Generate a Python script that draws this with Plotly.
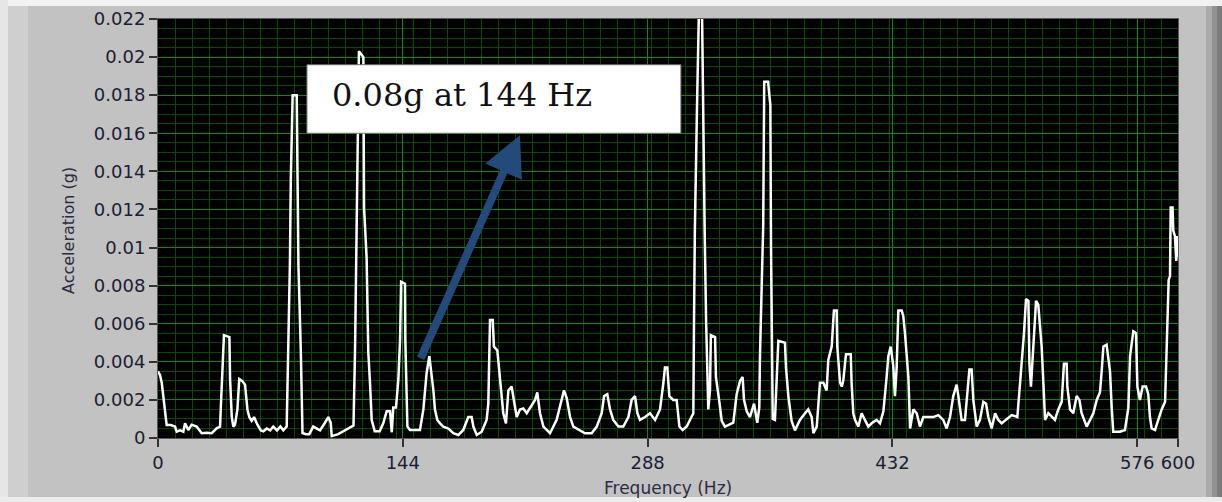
import plotly.graph_objects as go

# ---------------- data ----------------
freq_hz = [
    0, 1.2, 2.2, 3.1, 4.1, 5.1, 7.5, 10, 11, 13, 14.9, 15.9, 17.8, 19.8, 22.7, 25.7, 28.6, 31.6, 34.5, 36.5,
    36.9, 38.0, 38.8, 42.0, 42.4, 43.4, 44.3, 45.3, 46.7, 47.8, 49.5, 51.2, 52.6, 53.7, 55.1, 56.5, 58.5, 60.5,
    62, 64, 66, 67.8, 70, 72, 73.7, 75.7, 76.7, 77.6, 78.1, 79.2, 81.6, 82.0, 82.6, 84.0, 85.0, 87, 89, 91.3,
    95.3, 98.2, 100.2, 101.6, 102.2, 106, 110, 115, 115.9, 116.7, 117.3, 118.2, 120.8, 121.2, 122.7, 123.7,
    124.7, 125.7, 127.5, 130.4, 132.5, 134.5, 136.5, 137.5, 138.4, 140.0, 141.4, 142.4, 143.0, 145.3, 145.5,
    146.0, 146.7, 148.2, 154.1, 156.1, 158.0, 159.6, 161.0, 162.0, 162.9, 164.3, 165.9, 167.8, 170.8, 173.7,
    176.7, 179.6, 182.5, 184.5, 185.5, 187.5, 190.4, 193.3, 194.3, 195.3, 196.9, 197.6, 199.6, 201.2, 203.1,
    204.7, 206.1, 208.0, 210.0, 211.0, 212.9, 214.9, 216.9, 218.8, 221.8, 223.1, 224.7, 226.7, 230.6, 234.5,
    237.5, 238.8, 240.4, 242.4, 244.3, 248.2, 251.2, 255.1, 258.1, 261.0, 262.4, 264.3, 265.9, 267.8, 270.8,
    273.7, 276.7, 278.6, 280.6, 282.0, 283.5, 286.5, 289.4, 292.4, 295.3, 297.3, 298.2, 299.6, 300.8, 303.1,
    305.1, 306.7, 308.6, 311.0, 312.9, 314.9, 315.3, 315.8, 317.0, 318.2, 320.0, 320.6, 321.6, 322.4, 323.7,
    324.7, 325.2, 327.7, 328.2, 330.2, 331.6, 333.5, 335.5, 338.4, 340.4, 342.4, 343.9, 344.7, 346.3, 348.2,
    350.6, 352.5, 353.7, 354.1, 355.2, 356.0, 356.6, 358.9, 359.5, 360.2, 360.6, 361.0, 361.6, 362.9, 363.9,
    364.9, 368.8, 369.4, 370.8, 372.7, 374.7, 377.6, 380.6, 382.5, 384.5, 385.5, 387.5, 389.4, 391.4, 393.3,
    394.3, 396.3, 397.6, 399.2, 399.6, 401.2, 402.2, 403.1, 404.7, 407.5, 408.0, 409.0, 410.0, 412.0, 413.9,
    415.9, 417.8, 419.8, 422.7, 424.7, 426.7, 428.6, 429.6, 431.0, 432.5, 433.5, 434.5, 435.5, 437.5, 438.4,
    439.4, 441.4, 442.4, 444.3, 446.3, 448.2, 450.2, 453.1, 456.1, 459.0, 461.9, 463.9, 465.9, 467.8, 469.8,
    470.8, 472.7, 474.7, 476.1, 477.3, 478.6, 479.6, 481.6, 483.5, 485.5, 487.1, 488.4, 490.4, 492.4, 494.3,
    496.3, 499.2, 502.2, 505.5, 506.7, 508.0, 509.4, 510.6, 512.0, 512.6, 513.5, 514.9, 516.5, 517.8, 518.8,
    519.8, 520.8, 521.8, 523.7, 525.7, 527.6, 529.6, 531.6, 532.9, 534.5, 534.9, 536.5, 538.4, 540.4, 542.0,
    543.3, 546.3, 548.2, 550.2, 552.2, 554.1, 555.1, 556.1, 558.0, 560.0, 561.0, 561.9, 565.9, 568.8, 570.8,
    571.8, 573.7, 575.3, 576.1, 577.6, 579.2, 581.2, 582.5, 583.5, 584.5, 586.5, 588.4, 590.4, 592.4, 593.3,
    594.5, 595.3, 595.7, 596.8, 597.2, 598.2, 599.0, 599.5, 600.0,
]

accel_g = [
    0.0035, 0.0033, 0.0029, 0.0022, 0.0013, 0.00068, 0.00068, 0.0006, 0.00033, 0.0004, 0.00033, 0.00077, 0.00042, 0.0007, 0.0006, 0.00025, 0.00028, 0.00025, 0.00051, 0.00059,
    0.0015, 0.0035, 0.0054, 0.0053, 0.0031, 0.0011, 0.0006, 0.0007, 0.0015, 0.0031, 0.0030, 0.0028, 0.0015, 0.0011, 0.0009, 0.0011, 0.0007, 0.0004,
    0.00035, 0.0005, 0.0004, 0.0006, 0.0004, 0.0006, 0.0004, 0.0006, 0.0048, 0.0092, 0.0135, 0.0180, 0.0180, 0.0134, 0.0091, 0.0046, 0.00026, 0.0002, 0.0002, 0.0006,
    0.0004, 0.0008, 0.0011, 0.0008, 0.0001, 0.0002, 0.0004, 0.00065, 0.0046, 0.0097, 0.0125, 0.0203, 0.0200, 0.0121, 0.0095, 0.0045,
    0.0029, 0.00094, 0.00035, 0.00035, 0.00077, 0.0014, 0.0014, 0.0003, 0.0016, 0.0016, 0.0031, 0.0052, 0.0082, 0.0081, 0.0051,
    0.0030, 0.0006, 0.00042, 0.00042, 0.0015, 0.0034, 0.0043, 0.0034, 0.0025, 0.0015, 0.00095, 0.00077, 0.0006, 0.0005, 0.00025,
    0.00016, 0.00042, 0.0011, 0.0011, 0.0006, 0.00016, 0.00033, 0.00095, 0.0018, 0.0062, 0.0062, 0.0048, 0.0046, 0.0030, 0.0013,
    0.00077, 0.0025, 0.0027, 0.0015, 0.0011, 0.0015, 0.00155, 0.0013, 0.0016, 0.0020, 0.0024, 0.0013, 0.0006, 0.00025, 0.00095,
    0.0020, 0.0025, 0.0021, 0.0011, 0.0006, 0.00042, 0.00025, 0.00025, 0.0006, 0.0013, 0.0022, 0.0023, 0.0015, 0.00095, 0.0006,
    0.0006, 0.0011, 0.0020, 0.0022, 0.0013, 0.00095, 0.0011, 0.0013, 0.00095, 0.0015, 0.0029, 0.0037, 0.0037, 0.0022, 0.0020,
    0.0020, 0.0006, 0.00042, 0.0006, 0.00095, 0.0013, 0.0062, 0.0109, 0.0171, 0.0225, 0.0225, 0.0170, 0.0107, 0.0062, 0.0015,
    0.0025, 0.0054, 0.0053, 0.0032, 0.0019, 0.0009, 0.0006, 0.0007, 0.0008, 0.0023, 0.0030, 0.0032, 0.0020, 0.0014, 0.0011,
    0.0018, 0.0008, 0.0016, 0.0043, 0.0083, 0.0111, 0.0187, 0.0187, 0.0181, 0.0175, 0.0100, 0.0050, 0.0010, 0.00095, 0.0030,
    0.0051, 0.0050, 0.0037, 0.0022, 0.0009, 0.0004, 0.00095, 0.0013, 0.0015, 0.0011, 0.00025, 0.0006, 0.0029, 0.0029, 0.0025,
    0.0041, 0.0048, 0.0067, 0.0067, 0.0048, 0.0029, 0.0027, 0.0030, 0.0044, 0.0044, 0.0029, 0.0013, 0.00095, 0.0006, 0.0013,
    0.00095, 0.0006, 0.00077, 0.00095, 0.00077, 0.0014, 0.0032, 0.0043, 0.0048, 0.0038, 0.0022, 0.0037, 0.0067, 0.0067, 0.0064,
    0.0055, 0.0032, 0.0005, 0.0015, 0.0013, 0.0006, 0.0011, 0.0011, 0.0011, 0.0012, 0.00095, 0.0005, 0.0011, 0.0022, 0.0028,
    0.0022, 0.00095, 0.00095, 0.0022, 0.0036, 0.0036, 0.0020, 0.0006, 0.00095, 0.0019, 0.0018, 0.0011, 0.0005, 0.0013, 0.00095,
    0.00077, 0.0010, 0.0012, 0.0011, 0.0023, 0.0039, 0.0055, 0.0073, 0.0072, 0.0039, 0.0027, 0.0048, 0.0072, 0.0070, 0.0060,
    0.0048, 0.0029, 0.00095, 0.0013, 0.0011, 0.00095, 0.0015, 0.0019, 0.0039, 0.0039, 0.0027, 0.0015, 0.0013, 0.0022, 0.0020,
    0.0013, 0.0006, 0.00095, 0.0013, 0.0020, 0.0024, 0.0035, 0.0048, 0.0049, 0.0035, 0.0016, 0.00033, 0.00033, 0.00042, 0.0016,
    0.0043, 0.0056, 0.0055, 0.0027, 0.0020, 0.0027, 0.0027, 0.0023, 0.0011, 0.0005, 0.00042, 0.00095, 0.0015, 0.0019, 0.0048,
    0.0083, 0.0085, 0.0121, 0.0121, 0.0109, 0.0106, 0.0093, 0.0106, 0.0095,
]

x_tick_vals = [0, 144, 288, 432, 576, 600]
x_tick_text = ["0", "144", "288", "432", "576", "600"]
y_tick_vals = [0, 0.002, 0.004, 0.006, 0.008, 0.01, 0.012, 0.014, 0.016, 0.018, 0.02, 0.022]
y_tick_text = ["0", "0.002", "0.004", "0.006", "0.008", "0.01", "0.012", "0.014", "0.016", "0.018", "0.02", "0.022"]

note_text = "0.08g at 144 Hz"

# ---------------- figure ----------------
W, H = 1222, 502
ML, MR, MT, MB = 158, 44, 19, 64
PW, PH = W - ML - MR, H - MT - MB


def px_x(px):
    return (px - ML) / PW


def px_y(py):
    return (H - MB - py) / PH


fig = go.Figure()
fig.add_trace(go.Scatter(
    x=freq_hz, y=accel_g, mode="lines",
    line=dict(color="#ffffff", width=2.5),
    hoverinfo="skip", showlegend=False,
))

tick_font = dict(family="DejaVu Sans", size=18, color="#1c1c34")

fig.update_layout(
    width=W, height=H, autosize=False,
    margin=dict(l=ML, r=MR, t=MT, b=MB, pad=0),
    paper_bgcolor="#c2c2c2",
    plot_bgcolor="#000000",
    showlegend=False,
    xaxis=dict(
        range=[0, 600], tickmode="array", tickvals=x_tick_vals, ticktext=x_tick_text,
        ticks="outside", ticklen=8, tickwidth=1.5, tickcolor="#333333",
        tickfont=tick_font, automargin=False,
        showgrid=True, gridcolor="#0a8a0a", gridwidth=1.3,
        minor=dict(tickmode="linear", tick0=0, dtick=10, showgrid=True,
                   gridcolor="#034a03", gridwidth=1, ticks=""),
        zeroline=False, showline=True, linecolor="#5a5a5a", linewidth=1, mirror=True,
        title=dict(text=""),
    ),
    yaxis=dict(
        range=[0, 0.022], tickmode="array", tickvals=y_tick_vals, ticktext=y_tick_text,
        ticks="outside", ticklen=8, tickwidth=1.5, tickcolor="#333333",
        tickfont=tick_font, automargin=False,
        showgrid=True, gridcolor="#0a8a0a", gridwidth=1.3,
        minor=dict(tickmode="linear", tick0=0, dtick=0.0005, showgrid=True,
                   gridcolor="#034a03", gridwidth=1, ticks=""),
        zeroline=False, showline=True, linecolor="#5a5a5a", linewidth=1, mirror=True,
        title=dict(text=""),
    ),
)

# axis titles placed as paper annotations
fig.add_annotation(text="Frequency (Hz)", xref="paper", yref="paper",
                   x=px_x(668), y=px_y(488), showarrow=False,
                   xanchor="center", yanchor="middle",
                   font=dict(family="DejaVu Sans", size=17, color="#2c2c44"))
fig.add_annotation(text="Acceleration (g)", xref="paper", yref="paper",
                   x=px_x(68), y=px_y(231), showarrow=False, textangle=-90,
                   xanchor="center", yanchor="middle",
                   font=dict(family="DejaVu Sans", size=16, color="#2c2c44"))

# frame decorations (LabVIEW-like bevel) in paper coordinates
frame = [
    (0, 0, W, 6, "#f2f2f2"),
    (0, 0, 8, H, "#e6e6e6"),
    (8, 6, 28, 497, "#cfcfcf"),
    (1206, 6, 1212, 497, "#ababab"),
    (1212, 6, 1217, 497, "#939393"),
    (1217, 6, W, 497, "#7c7c7c"),
    (0, 497, W, H, "#ececec"),
]
for x0, y0, x1, y1, col in frame:
    fig.add_shape(type="rect", xref="paper", yref="paper",
                  x0=px_x(x0), x1=px_x(x1), y0=px_y(y1), y1=px_y(y0),
                  fillcolor=col, line=dict(width=0), layer="below")

# annotation box
fig.add_shape(type="rect", xref="x", yref="y",
              x0=87.6, x1=307.6, y0=0.0160, y1=0.0196,
              fillcolor="#ffffff", line=dict(color="#6a6a6a", width=1), layer="above")
fig.add_annotation(x=101, y=0.0180, xref="x", yref="y", text=note_text,
                   showarrow=False, xanchor="left", yanchor="middle",
                   font=dict(family="DejaVu Serif", size=32, color="#111111"))
# arrow
fig.add_annotation(x=212.9, y=0.0159, ax=154.1, ay=0.0041, xref="x", yref="y",
                   axref="x", ayref="y", text="", showarrow=True,
                   arrowhead=2, arrowsize=1.0, arrowwidth=8, arrowcolor="#244a7c")

fig.write_html("out.html", config={"displayModeBar": False},
               post_script="document.body.style.margin='0px';document.body.style.overflow='hidden';")
